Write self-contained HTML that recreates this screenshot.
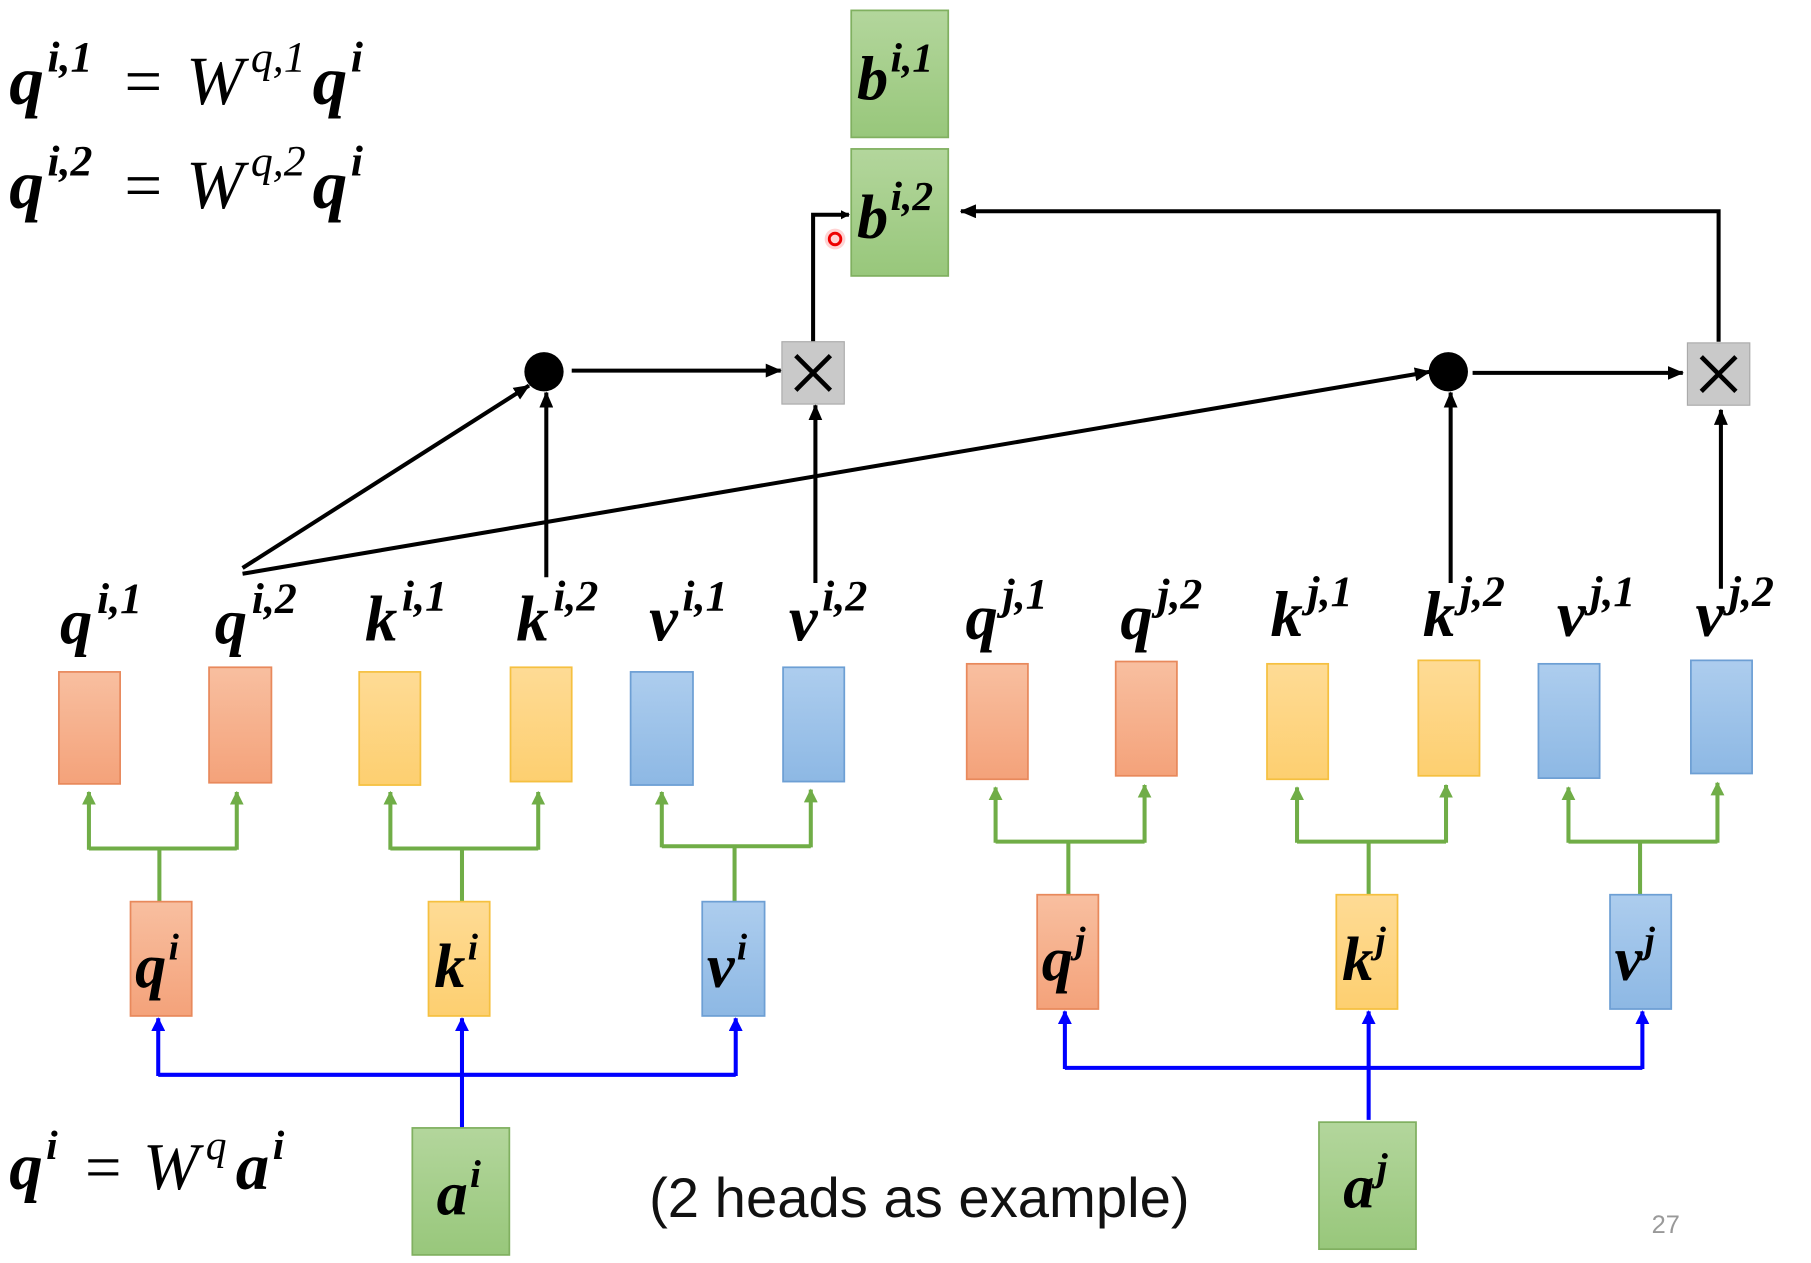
<!DOCTYPE html>
<html><head><meta charset="utf-8"><style>
html,body{margin:0;padding:0;background:#fff;}
svg{display:block;}
.m{font-family:"Liberation Serif",serif;font-style:italic;font-weight:bold;fill:#000;}
.w{font-family:"Liberation Serif",serif;font-style:italic;font-weight:normal;}
</style></head><body>
<svg width="1811" height="1263" viewBox="0 0 1568 1094" preserveAspectRatio="none" xmlns="http://www.w3.org/2000/svg">
<defs>
<marker id="ab" markerWidth="8" markerHeight="8" refX="7" refY="4" orient="auto" markerUnits="userSpaceOnUse"><path d="M0,0 L8,4 L0,8z" fill="#000"/></marker>
<marker id="ab2" markerWidth="14" markerHeight="12" refX="13" refY="6" orient="auto" markerUnits="userSpaceOnUse"><path d="M0,0 L14,6 L0,12z" fill="#000"/></marker>
<marker id="ag" markerWidth="12" markerHeight="12" refX="11" refY="6" orient="auto" markerUnits="userSpaceOnUse"><path d="M0,0 L12,6 L0,12z" fill="#70ad47"/></marker>
<marker id="abl" markerWidth="12" markerHeight="12" refX="11" refY="6" orient="auto" markerUnits="userSpaceOnUse"><path d="M0,0 L12,6 L0,12z" fill="#0000ff"/></marker>
<linearGradient id="go" x1="0" y1="0" x2="0" y2="1"><stop offset="0" stop-color="#f8bfa0"/><stop offset="1" stop-color="#f4a27a"/></linearGradient>
<linearGradient id="gy" x1="0" y1="0" x2="0" y2="1"><stop offset="0" stop-color="#fedb95"/><stop offset="1" stop-color="#fdcf70"/></linearGradient>
<linearGradient id="gb" x1="0" y1="0" x2="0" y2="1"><stop offset="0" stop-color="#adcdee"/><stop offset="1" stop-color="#8db8e4"/></linearGradient>
<linearGradient id="gg" x1="0" y1="0" x2="0" y2="1"><stop offset="0" stop-color="#b3d69c"/><stop offset="1" stop-color="#98c77b"/></linearGradient>
</defs>

<text x="8" y="90" class="m" font-size="60">q<tspan font-size="38" dy="-28" dx="3">i,1</tspan><tspan class="w" font-size="58" dy="28" dx="24" font-style="normal">=</tspan><tspan class="w" font-size="60" dx="18">W</tspan><tspan class="w" font-size="38" dy="-28" dx="6">q,1</tspan><tspan font-size="60" dy="28" dx="6">q</tspan><tspan font-size="38" dy="-28" dx="3">i</tspan></text>
<text x="8" y="180" class="m" font-size="60">q<tspan font-size="38" dy="-28" dx="3">i,2</tspan><tspan class="w" font-size="58" dy="28" dx="24" font-style="normal">=</tspan><tspan class="w" font-size="60" dx="18">W</tspan><tspan class="w" font-size="38" dy="-28" dx="6">q,2</tspan><tspan font-size="60" dy="28" dx="6">q</tspan><tspan font-size="38" dy="-28" dx="3">i</tspan></text>

<rect x="737" y="9" width="84" height="110" fill="url(#gg)" stroke="#80b060" stroke-width="1.5"/>
<text x="742" y="86" class="m" font-size="54">b<tspan font-size="36" dy="-24" dx="2">i,1</tspan></text>
<rect x="737" y="129" width="84" height="110" fill="url(#gg)" stroke="#80b060" stroke-width="1.5"/>
<text x="742" y="206" class="m" font-size="54">b<tspan font-size="36" dy="-24" dx="2">i,2</tspan></text>
<circle cx="723" cy="207" r="9" fill="#ff8080" opacity="0.35"/>
<circle cx="723" cy="207" r="5" fill="none" stroke="#e00" stroke-width="2.5"/>

<g stroke="#000" stroke-width="3.5" fill="none">
<polyline points="704,296 704,186 735,186" marker-end="url(#ab)"/>
<polyline points="1488,296 1488,183 832,183" marker-end="url(#ab2)"/>
<line x1="495" y1="321" x2="676" y2="321" marker-end="url(#ab2)"/>
<line x1="1275" y1="323" x2="1457" y2="323" marker-end="url(#ab2)"/>
<line x1="210" y1="492" x2="458" y2="334" marker-end="url(#ab2)"/>
<line x1="210" y1="497" x2="1238" y2="322" marker-end="url(#ab2)"/>
<line x1="473" y1="500" x2="473" y2="340" marker-end="url(#ab2)"/>
<line x1="706" y1="505" x2="706" y2="351" marker-end="url(#ab2)"/>
<line x1="1256" y1="505" x2="1256" y2="340" marker-end="url(#ab2)"/>
<line x1="1490" y1="510" x2="1490" y2="355" marker-end="url(#ab2)"/>
</g>
<circle cx="471" cy="322" r="17" fill="#000"/>
<circle cx="1254" cy="322" r="17" fill="#000"/>
<rect x="677" y="296" width="54" height="54" fill="#c9c9c9" stroke="#aaa"/>
<path d="M689,308 L719,338 M719,308 L689,338" stroke="#000" stroke-width="4"/>
<rect x="1461" y="297" width="54" height="54" fill="#c9c9c9" stroke="#aaa"/>
<path d="M1473,309 L1503,339 M1503,309 L1473,339" stroke="#000" stroke-width="4"/>

<g class="m" font-size="56">
<text x="52" y="557">q<tspan font-size="38" dy="-26" dx="4">i,1</tspan></text>
<text x="186" y="557">q<tspan font-size="38" dy="-26" dx="4">i,2</tspan></text>
<text x="316" y="555">k<tspan font-size="38" dy="-26" dx="4">i,1</tspan></text>
<text x="447" y="555">k<tspan font-size="38" dy="-26" dx="4">i,2</tspan></text>
<text x="562" y="555">v<tspan font-size="38" dy="-26" dx="4">i,1</tspan></text>
<text x="683" y="555">v<tspan font-size="38" dy="-26" dx="4">i,2</tspan></text>
<text x="836" y="553">q<tspan font-size="38" dy="-26" dx="4">j,1</tspan></text>
<text x="970" y="553">q<tspan font-size="38" dy="-26" dx="4">j,2</tspan></text>
<text x="1100" y="551">k<tspan font-size="38" dy="-26" dx="4">j,1</tspan></text>
<text x="1232" y="551">k<tspan font-size="38" dy="-26" dx="4">j,2</tspan></text>
<text x="1348" y="551">v<tspan font-size="38" dy="-26" dx="4">j,1</tspan></text>
<text x="1468" y="551">v<tspan font-size="38" dy="-26" dx="4">j,2</tspan></text>
</g>

<g stroke-width="1.5">
<rect x="51" y="582" width="53" height="97" fill="url(#go)" stroke="#e8895c"/>
<rect x="181" y="578" width="54" height="100" fill="url(#go)" stroke="#e8895c"/>
<rect x="311" y="582" width="53" height="98" fill="url(#gy)" stroke="#f5c040"/>
<rect x="442" y="578" width="53" height="99" fill="url(#gy)" stroke="#f5c040"/>
<rect x="546" y="582" width="54" height="98" fill="url(#gb)" stroke="#6d9fd4"/>
<rect x="678" y="578" width="53" height="99" fill="url(#gb)" stroke="#6d9fd4"/>
<rect x="837" y="575" width="53" height="100" fill="url(#go)" stroke="#e8895c"/>
<rect x="966" y="573" width="53" height="99" fill="url(#go)" stroke="#e8895c"/>
<rect x="1097" y="575" width="53" height="100" fill="url(#gy)" stroke="#f5c040"/>
<rect x="1228" y="572" width="53" height="100" fill="url(#gy)" stroke="#f5c040"/>
<rect x="1332" y="575" width="53" height="99" fill="url(#gb)" stroke="#6d9fd4"/>
<rect x="1464" y="572" width="53" height="98" fill="url(#gb)" stroke="#6d9fd4"/>
</g>

<g stroke="#70ad47" stroke-width="3.5" fill="none">
<line x1="138" y1="781" x2="138" y2="735"/><polyline points="77,735 205,735"/>
<line x1="77" y1="736" x2="77" y2="686" marker-end="url(#ag)"/><line x1="205" y1="736" x2="205" y2="686" marker-end="url(#ag)"/>
<line x1="400" y1="781" x2="400" y2="735"/><polyline points="338,735 466,735"/>
<line x1="338" y1="736" x2="338" y2="686" marker-end="url(#ag)"/><line x1="466" y1="736" x2="466" y2="686" marker-end="url(#ag)"/>
<line x1="636" y1="781" x2="636" y2="733"/><polyline points="573,733 702,733"/>
<line x1="573" y1="734" x2="573" y2="686" marker-end="url(#ag)"/><line x1="702" y1="734" x2="702" y2="684" marker-end="url(#ag)"/>
<line x1="925" y1="775" x2="925" y2="729"/><polyline points="862,729 991,729"/>
<line x1="862" y1="730" x2="862" y2="682" marker-end="url(#ag)"/><line x1="991" y1="730" x2="991" y2="680" marker-end="url(#ag)"/>
<line x1="1185" y1="775" x2="1185" y2="729"/><polyline points="1123,729 1252,729"/>
<line x1="1123" y1="730" x2="1123" y2="682" marker-end="url(#ag)"/><line x1="1252" y1="730" x2="1252" y2="680" marker-end="url(#ag)"/>
<line x1="1420" y1="775" x2="1420" y2="729"/><polyline points="1358,729 1487,729"/>
<line x1="1358" y1="730" x2="1358" y2="682" marker-end="url(#ag)"/><line x1="1487" y1="730" x2="1487" y2="678" marker-end="url(#ag)"/>
</g>

<g stroke-width="1.5">
<rect x="113" y="781" width="53" height="99" fill="url(#go)" stroke="#e8895c"/>
<rect x="371" y="781" width="53" height="99" fill="url(#gy)" stroke="#f5c040"/>
<rect x="608" y="781" width="54" height="99" fill="url(#gb)" stroke="#6d9fd4"/>
<rect x="898" y="775" width="53" height="99" fill="url(#go)" stroke="#e8895c"/>
<rect x="1157" y="775" width="53" height="99" fill="url(#gy)" stroke="#f5c040"/>
<rect x="1394" y="775" width="53" height="99" fill="url(#gb)" stroke="#6d9fd4"/>
</g>
<g class="m" font-size="54">
<text x="117" y="855">q<tspan font-size="32" dy="-24" dx="2">i</tspan></text>
<text x="376" y="855">k<tspan font-size="32" dy="-24" dx="2">i</tspan></text>
<text x="612" y="855">v<tspan font-size="32" dy="-24" dx="2">i</tspan></text>
<text x="902" y="849">q<tspan font-size="32" dy="-24" dx="2">j</tspan></text>
<text x="1162" y="849">k<tspan font-size="32" dy="-24" dx="2">j</tspan></text>
<text x="1398" y="849">v<tspan font-size="32" dy="-24" dx="2">j</tspan></text>
</g>

<g stroke="#0000ff" stroke-width="3.5" fill="none">
<line x1="400" y1="977" x2="400" y2="882" marker-end="url(#abl)"/>
<polyline points="137,931 637,931"/>
<line x1="137" y1="932" x2="137" y2="882" marker-end="url(#abl)"/>
<line x1="637" y1="932" x2="637" y2="882" marker-end="url(#abl)"/>
<line x1="1185" y1="970" x2="1185" y2="876" marker-end="url(#abl)"/>
<polyline points="922,925 1422,925"/>
<line x1="922" y1="926" x2="922" y2="876" marker-end="url(#abl)"/>
<line x1="1422" y1="926" x2="1422" y2="876" marker-end="url(#abl)"/>
</g>

<rect x="357" y="977" width="84" height="110" fill="url(#gg)" stroke="#80b060" stroke-width="1.5"/>
<text x="378" y="1052" class="m" font-size="54">a<tspan font-size="34" dy="-24" dx="2">i</tspan></text>
<rect x="1142" y="972" width="84" height="110" fill="url(#gg)" stroke="#80b060" stroke-width="1.5"/>
<text x="1163" y="1046" class="m" font-size="54">a<tspan font-size="34" dy="-24" dx="2">j</tspan></text>

<text x="8" y="1030" class="m" font-size="58">q<tspan font-size="36" dy="-26" dx="3">i</tspan><tspan class="w" font-size="56" dy="26" dx="20" font-style="normal">=</tspan><tspan class="w" font-size="58" dx="16">W</tspan><tspan class="w" font-size="36" dy="-26" dx="6">q</tspan><tspan font-size="58" dy="26" dx="8">a</tspan><tspan font-size="36" dy="-26" dx="3">i</tspan></text>

<text x="562" y="1054" font-family="Liberation Sans, sans-serif" font-size="48" fill="#111" textLength="468" lengthAdjust="spacingAndGlyphs">(2 heads as example)</text>
<text x="1430" y="1068" font-family="Liberation Sans, sans-serif" font-size="22" fill="#999">27</text>
</svg>
</body></html>
